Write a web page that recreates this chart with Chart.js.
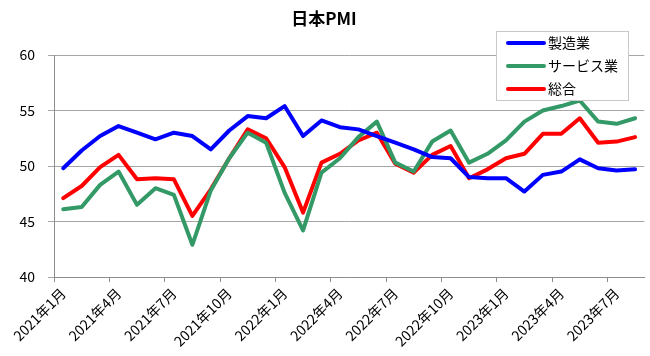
<!DOCTYPE html>
<html>
<head>
<meta charset="utf-8">
<script src="https://cdn.jsdelivr.net/npm/chart.js@4"></script>
<style>
html,body{margin:0;padding:0;background:#fff;}
#wrap{width:650px;height:356px;position:relative;}
</style>
</head>
<body>
<div id="wrap"><canvas id="c" width="650" height="356"></canvas></div>
<script>
const title = "日本PMI";
const months = [];
for (let y = 2021; y <= 2023; y++) {
  for (let m = 1; m <= 12; m++) {
    if (y === 2023 && m > 8) break;
    months.push(y + "年" + m + "月");
  }
}
const seriesNames = ["製造業", "サービス業", "総合"];
const manufacturing = [49.8,51.4,52.7,53.6,53.0,52.4,53.0,52.7,51.5,53.2,54.5,54.3,
  55.4,52.7,54.1,53.5,53.3,52.7,52.1,51.5,50.8,50.7,49.0,48.9,
  48.9,47.7,49.2,49.5,50.6,49.8,49.6,49.7];
const services = [46.1,46.3,48.3,49.5,46.5,48.0,47.4,42.9,47.8,50.7,53.0,52.1,
  47.6,44.2,49.4,50.7,52.6,54.0,50.3,49.5,52.2,53.2,50.3,51.1,
  52.3,54.0,55.0,55.4,55.9,54.0,53.8,54.3];
const composite = [47.1,48.2,49.9,51.0,48.8,48.9,48.8,45.5,47.9,50.7,53.3,52.5,
  49.9,45.8,50.3,51.1,52.3,53.0,50.2,49.4,51.0,51.8,48.9,49.7,
  50.7,51.1,52.9,52.9,54.3,52.1,52.2,52.6];
const colors = ["#0000FF", "#339966", "#FF0000"];
const FONT = "'Noto Sans CJK JP', 'Noto Sans', sans-serif";

const legendPlugin = {
  id: 'boxLegend',
  afterDraw(chart) {
    const ctx = chart.ctx;
    const x0 = 496, y0 = 31, w = 132, h = 69;
    ctx.save();
    ctx.fillStyle = '#fff';
    ctx.fillRect(x0, y0, w, h);
    ctx.strokeStyle = '#c8c8c8';
    ctx.lineWidth = 1;
    ctx.strokeRect(x0 + 0.5, y0 + 0.5, w, h);
    chart.data.datasets.forEach((ds, i) => {
      const yy = 43 + i * 23;
      ctx.strokeStyle = ds.borderColor;
      ctx.lineWidth = 4;
      ctx.lineCap = 'round';
      ctx.beginPath();
      ctx.moveTo(508, yy);
      ctx.lineTo(544, yy);
      ctx.stroke();
      ctx.fillStyle = '#000';
      ctx.font = "14px " + FONT;
      ctx.textBaseline = 'middle';
      ctx.textAlign = 'left';
      ctx.fillText(ds.label, 548, yy);
    });
    ctx.restore();
  }
};

new Chart(document.getElementById('c'), {
  type: 'line',
  data: {
    labels: months,
    datasets: [
      { label: seriesNames[0], data: manufacturing, borderColor: colors[0] },
      { label: seriesNames[1], data: services, borderColor: colors[1] },
      { label: seriesNames[2], data: composite, borderColor: colors[2] }
    ].map(d => Object.assign(d, {
      backgroundColor: d.borderColor, borderWidth: 4, pointRadius: 0,
      tension: 0, fill: false, borderJoinStyle: 'round', borderCapStyle: 'round'
    }))
  },
  options: {
    responsive: false,
    animation: false,
    layout: { padding: { left: 0, right: 2, top: 0, bottom: 0 } },
    plugins: {
      legend: { display: false },
      tooltip: { enabled: false },
      title: {
        display: true, text: title, color: '#000',
        font: { family: FONT, size: 17, weight: 'bold' },
        padding: { top: 8, bottom: 26.6 }
      }
    },
    scales: {
      x: {
        type: 'category',
        offset: true,
        grid: {
          offset: true,
          drawOnChartArea: false,
          drawTicks: true,
          tickLength: 5,
          color: ctx => (ctx.index % 3 === 0 ? '#8c8c8c' : 'rgba(0,0,0,0)')
        },
        border: { color: '#8c8c8c', width: 1 },
        ticks: {
          autoSkip: false,
          maxRotation: 45, minRotation: 45,
          color: '#000',
          font: { family: FONT, size: 14 },
          padding: 3,
          callback: function(v, i) { return i % 3 === 0 ? this.getLabelForValue(v) : ''; }
        },
        afterFit: s => { s.height = 79; }
      },
      y: {
        min: 40, max: 60,
        ticks: { stepSize: 5, color: '#000', font: { family: FONT, size: 14 }, padding: 13 },
        grid: { color: '#a6a6a6', tickLength: 6, lineWidth: 1 },
        border: { color: '#8c8c8c', width: 1 },
        afterFit: s => { s.width = 54; }
      }
    }
  },
  plugins: [legendPlugin]
});
</script>
</body>
</html>
